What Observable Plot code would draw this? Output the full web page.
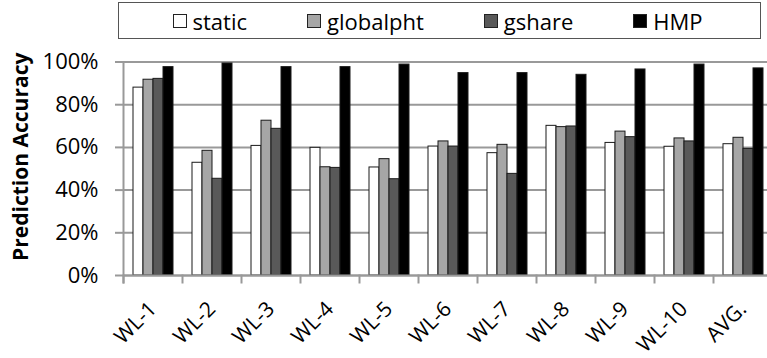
<!DOCTYPE html>
<html>
<head>
<meta charset="utf-8">
<script src="https://cdn.jsdelivr.net/npm/d3@7"></script>
<script src="https://cdn.jsdelivr.net/npm/@observablehq/plot@0.6"></script>
<style>
  body { margin: 0; background: #fff; }
  #wrap { position: relative; width: 767px; height: 358px; overflow: hidden; font-family: "Open Sans", sans-serif; color: #000; }
  .legend {
    position: absolute; left: 118px; top: 2px; width: 643px; height: 37px;
    box-sizing: border-box; border: 1px solid #555;
    display: flex; align-items: center; justify-content: center; gap: 60px;
    font-size: 22px; padding-right: 4px;
  }
  .legend .item { display: flex; align-items: center; gap: 6px; }
  .legend .sw { width: 14px; height: 14px; box-sizing: border-box; border: 1px solid #222; }
  #chart { position: absolute; left: 0; top: 44px; }
</style>
</head>
<body>
<div id="wrap">
  <div class="legend" id="legend"></div>
  <div id="chart"></div>
</div>
<script>
// Workloads on the x axis
const groups = ["WL-1", "WL-2", "WL-3", "WL-4", "WL-5", "WL-6", "WL-7", "WL-8", "WL-9", "WL-10", "AVG."];
// Predictor names (legend order)
const series = ["static", "globalpht", "gshare", "HMP"];
// Prediction accuracy (%) per workload
const staticAcc    = [88.0, 52.8, 60.7, 59.8, 50.6, 60.4, 57.3, 70.1, 62.1, 60.3, 61.5];
const globalphtAcc = [91.7, 58.4, 72.5, 50.7, 54.5, 62.8, 61.2, 69.5, 67.4, 64.2, 64.5];
const gshareAcc    = [92.1, 45.3, 68.7, 50.4, 45.1, 60.4, 47.6, 69.8, 64.8, 62.8, 59.3];
const hmpAcc       = [97.6, 99.3, 97.6, 97.6, 98.8, 94.8, 94.8, 94.0, 96.5, 98.8, 97.0];
const fills = ["#ffffff", "#a6a6a6", "#595959", "#000000"];
const yTicks = [0, 20, 40, 60, 80, 100];

const seriesValues = [staticAcc, globalphtAcc, gshareAcc, hmpAcc];
const rows = groups.flatMap((g, i) =>
  series.map((s, j) => ({group: g, series: s, value: seriesValues[j][i]}))
);

// Legend
const legend = document.getElementById("legend");
series.forEach((s, j) => {
  const item = document.createElement("div");
  item.className = "item";
  const sw = document.createElement("span");
  sw.className = "sw";
  sw.style.background = fills[j];
  const label = document.createElement("span");
  label.textContent = s;
  item.append(sw, label);
  legend.append(item);
});

const W = 767, H = 314;
const mTop = 17.5, mBottom = 83;
const innerH = H - mTop - mBottom;
const gridColor = "#999999";

const chart = Plot.plot({
  width: W,
  height: H,
  marginLeft: 122,
  marginRight: -5,
  marginTop: mTop,
  marginBottom: mBottom,
  style: {fontFamily: "Open Sans, sans-serif", fontSize: "20px", color: "#000", background: "transparent"},
  fx: {domain: groups, padding: 0, axis: null, label: null},
  x: {domain: series, paddingInner: 0, paddingOuter: 0.75, axis: null},
  y: {domain: [0, 100], axis: null},
  color: {domain: series, range: fills},
  marks: [
    Plot.gridY(yTicks, {stroke: gridColor, strokeOpacity: 1, strokeWidth: 2}),
    Plot.axisY(yTicks, {
      anchor: "left", tickSize: 8, tickPadding: 17,
      tickFormat: d => d + "%", stroke: gridColor, strokeWidth: 2, strokeOpacity: 1,
      fontSize: 22, label: null
    }),
    // y-axis line on the first facet
    Plot.frame({anchor: "left", facetAnchor: "left", stroke: gridColor, strokeWidth: 2, insetBottom: -7}),
    // category separators below the x axis
    Plot.frame({anchor: "left", stroke: gridColor, strokeWidth: 2, insetTop: innerH, insetBottom: -7}),
    Plot.barY(rows, {fx: "group", x: "series", y: "value", fill: "series", stroke: "#1a1a1a", strokeWidth: 1}),
    Plot.ruleY([0], {stroke: gridColor, strokeWidth: 2}),
    Plot.axisFx({anchor: "bottom", tickSize: 0, tickPadding: 30, tickRotate: -45, fontSize: 21, label: null}),
    Plot.text(["Prediction Accuracy"], {
      text: d => d, frameAnchor: "left", facetAnchor: "left",
      rotate: -90, dx: -102, dy: -12, textAnchor: "middle", lineAnchor: "middle",
      fontWeight: "bold", fontSize: 21
    })
  ]
});

document.getElementById("chart").append(chart);
</script>
</body>
</html>
